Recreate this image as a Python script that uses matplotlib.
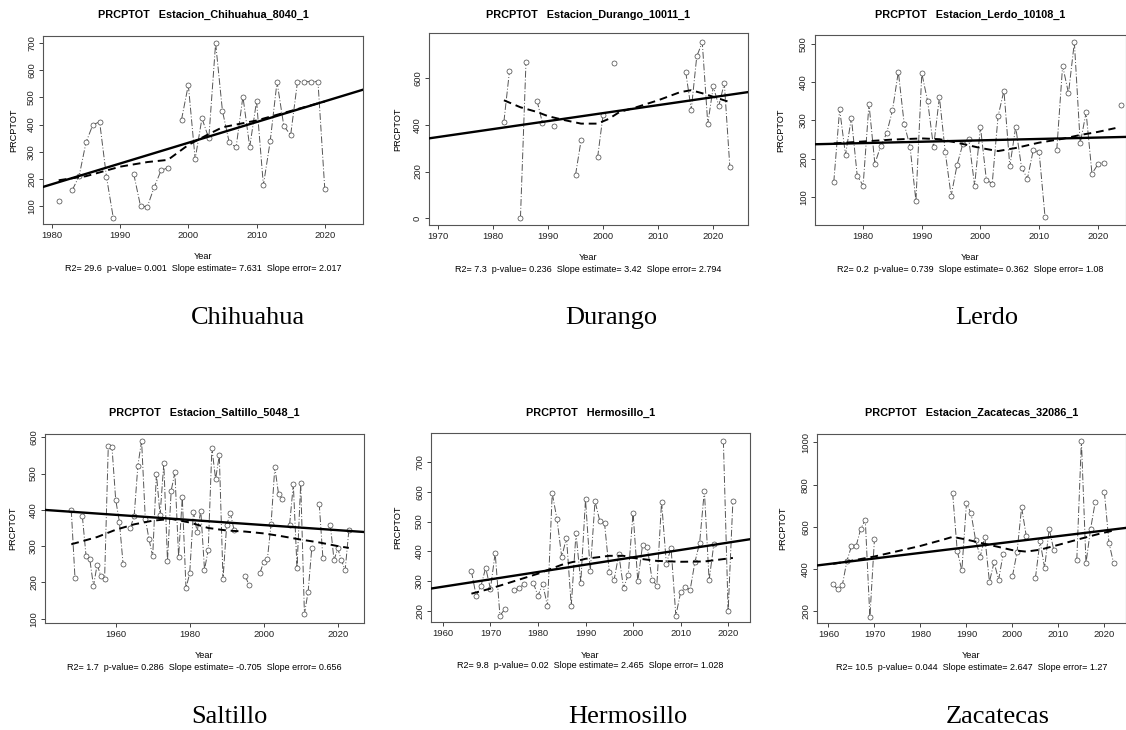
"""
Six PRCPTOT panels (annual total precipitation) with linear trend and smooth curve.
"""
import matplotlib
matplotlib.use("Agg")
import numpy as np
import matplotlib.pyplot as plt

plt.rcParams["font.family"] = ["Liberation Sans", "DejaVu Sans"]

W, H = 1126, 730

# ---- Chihuahua ----
chi_years = [1981, 1983, 1984, 1985, 1986, 1987, 1988, 1989, 1992, 1993, 1994, 1995,
             1996, 1997, 1999, 2000, 2001, 2002, 2003, 2004, 2005, 2006, 2007, 2008,
             2009, 2010, 2011, 2012, 2013, 2014, 2015, 2016, 2017, 2018, 2019, 2020]
chi_vals = [118, 159, 211, 334, 399, 410, 208, 57, 218, 99, 98, 170,
            231, 241, 418, 546, 273, 423, 349, 700, 450, 334, 316, 503,
            318, 486, 177, 339, 557, 394, 362, 558, 558, 558, 558, 162]
chi_sm_years = [1981, 1985, 1990, 1994, 1997, 2000, 2003, 2005, 2010, 2015, 2020]
chi_sm_vals = [195, 210, 245, 262, 270, 325, 365, 390, 415, 450, 485]
chi_slope, chi_mid = 7.631, 333

# ---- Durango ----
dur_years = [1982, 1983, 1985, 1986, 1988, 1989, 1991, 1995, 1996, 1999, 2000, 2002,
             2015, 2016, 2017, 2018, 2019, 2020, 2021, 2022, 2023]
dur_vals = [414, 629, 3, 667, 504, 407, 393, 186, 333, 260, 443, 664,
            626, 464, 693, 753, 404, 564, 481, 579, 221]
dur_sm_years = [1982, 1985, 1988, 1990, 1993, 1996, 1999, 2001, 2003, 2006, 2010, 2014, 2016, 2018, 2020, 2023]
dur_sm_vals = [505, 475, 455, 437, 420, 405, 405, 425, 455, 475, 505, 540, 548, 535, 520, 497]
dur_slope, dur_mid = 3.42, 450

# ---- Lerdo ----
ler_years = list(range(1975, 2012)) + [2013, 2014, 2015, 2016, 2017, 2018, 2019, 2020, 2021, 2024]
ler_vals = [139, 329, 210, 307, 155, 130, 343, 187, 233, 266, 326, 427, 291, 231, 90,
            423, 350, 230, 361, 217, 103, 183, 239, 252, 130, 283, 145, 135, 311, 378,
            180, 283, 177, 148, 223, 217, 48,
            223, 443, 371, 504, 240, 321, 161, 185, 190, 339]
ler_sm_years = [1975, 1980, 1985, 1990, 1993, 1996, 2000, 2003, 2006, 2010, 2014, 2017, 2020, 2023]
ler_sm_vals = [240, 245, 250, 253, 251, 242, 228, 220, 228, 242, 252, 262, 270, 280]
ler_slope, ler_mid = 0.362, 248

# ---- Saltillo ----
sal_years = [1948, 1949, 1951, 1952, 1953, 1954, 1955, 1956, 1957, 1958, 1959, 1960,
             1961, 1962, 1964, 1965, 1966, 1967, 1968, 1969, 1970, 1971, 1972, 1973,
             1974, 1975, 1976, 1977, 1978, 1979, 1980, 1981, 1982, 1983, 1984, 1985,
             1986, 1987, 1988, 1989, 1990, 1991, 1992, 1995, 1996, 1999, 2000, 2001,
             2002, 2003, 2004, 2005, 2007, 2008, 2009, 2010, 2011, 2012, 2013, 2015,
             2016, 2018, 2019, 2020, 2021, 2022, 2023]
sal_vals = [399, 213, 382, 272, 264, 190, 249, 217, 208, 576, 573, 428,
            367, 251, 351, 384, 522, 590, 376, 319, 272, 499, 385, 528,
            260, 453, 503, 271, 434, 184, 225, 394, 340, 397, 235, 289,
            570, 485, 550, 209, 359, 390, 344, 218, 193, 226, 257, 265,
            362, 518, 444, 430, 359, 470, 240, 474, 113, 174, 296, 417,
            266, 359, 261, 294, 261, 233, 343]
sal_sm_years = [1948, 1955, 1960, 1965, 1970, 1975, 1980, 1985, 1990, 1995, 2000, 2005, 2010, 2015, 2020, 2023]
sal_sm_vals = [305, 325, 345, 360, 370, 375, 365, 350, 343, 340, 335, 327, 318, 310, 300, 295]
sal_slope, sal_mid = -0.705, 358

# ---- Hermosillo ----
her_years = [1966, 1967, 1968, 1969, 1970, 1971, 1972, 1973, 1975, 1976, 1977, 1979,
             1980, 1981, 1982, 1983, 1984, 1985, 1986, 1987, 1988, 1989, 1990, 1991,
             1992, 1993, 1994, 1995, 1996, 1997, 1998, 1999, 2000, 2001, 2002, 2003,
             2004, 2005, 2006, 2007, 2008, 2009, 2010, 2011, 2012, 2013, 2014, 2015,
             2016, 2017, 2019, 2020, 2021]
her_vals = [333, 251, 283, 345, 274, 395, 184, 206, 269, 276, 291, 295,
            251, 291, 216, 595, 508, 381, 446, 217, 461, 295, 574, 333,
            568, 502, 495, 332, 303, 390, 277, 322, 530, 300, 421, 414,
            305, 285, 567, 359, 411, 184, 262, 281, 270, 363, 428, 604,
            303, 425, 770, 199, 569]
her_sm_years = [1966, 1970, 1975, 1980, 1985, 1990, 1995, 1998, 2000, 2005, 2010, 2015, 2021]
her_sm_vals = [258, 275, 300, 325, 355, 375, 385, 385, 378, 368, 365, 366, 378]
her_slope, her_mid = 2.465, 380

# ---- Zacatecas ----
zac_years = [1961, 1962, 1963, 1964, 1965, 1966, 1967, 1968, 1969, 1970,
             1987, 1988, 1989, 1990, 1991, 1992, 1993, 1994, 1995, 1996, 1997, 1998,
             2000, 2001, 2002, 2003, 2005, 2006, 2007, 2008, 2009,
             2014, 2015, 2016, 2017, 2018, 2020, 2021, 2022]
zac_vals = [329, 304, 323, 439, 509, 509, 590, 633, 172, 545,
            760, 486, 394, 712, 665, 536, 459, 553, 340, 432, 350, 474,
            366, 480, 693, 558, 358, 533, 407, 591, 490,
            445, 1008, 429, 590, 717, 765, 525, 428]
zac_sm_years = [1961, 1965, 1970, 1975, 1980, 1985, 1987, 1990, 1995, 2000, 2003, 2006, 2010, 2015, 2019, 2022]
zac_sm_vals = [425, 440, 460, 485, 510, 540, 553, 540, 515, 490, 483, 492, 515, 545, 568, 583]
zac_slope, zac_mid = 2.647, 530

panels = [
    dict(title="PRCPTOT   Estacion_Chihuahua_8040_1", city="Chihuahua",
         years=chi_years, vals=chi_vals, sm_years=chi_sm_years, sm_vals=chi_sm_vals,
         slope=chi_slope, mid=chi_mid,
         stats="R2= 29.6  p-value= 0.001  Slope estimate= 7.631  Slope error= 2.017",
         xlim=(1978.7, 2025.6), ylim=(34, 726),
         xticks=[1980, 1990, 2000, 2010, 2020], yticks=[100, 200, 300, 400, 500, 600, 700],
         box=(43, 36, 363, 224), ylab_x=14, city_xy=(248, 318)),
    dict(title="PRCPTOT   Estacion_Durango_10011_1", city="Durango",
         years=dur_years, vals=dur_vals, sm_years=dur_sm_years, sm_vals=dur_sm_vals,
         slope=dur_slope, mid=dur_mid,
         stats="R2= 7.3  p-value= 0.236  Slope estimate= 3.42  Slope error= 2.794",
         xlim=(1968.4, 2026.3), ylim=(-29, 793),
         xticks=[1970, 1980, 1990, 2000, 2010, 2020], yticks=[0, 200, 400, 600],
         box=(429, 33, 748, 225), ylab_x=398, city_xy=(611, 318)),
    dict(title="PRCPTOT   Estacion_Lerdo_10108_1", city="Lerdo",
         years=ler_years, vals=ler_vals, sm_years=ler_sm_years, sm_vals=ler_sm_vals,
         slope=ler_slope, mid=ler_mid,
         stats="R2= 0.2  p-value= 0.739  Slope estimate= 0.362  Slope error= 1.08",
         xlim=(1971.8, 2024.8), ylim=(27, 523),
         xticks=[1980, 1990, 2000, 2010, 2020], yticks=[100, 200, 300, 400, 500],
         box=(815, 35, 1126, 225), ylab_x=781, city_xy=(987, 318)),
    dict(title="PRCPTOT   Estacion_Saltillo_5048_1", city="Saltillo",
         years=sal_years, vals=sal_vals, sm_years=sal_sm_years, sm_vals=sal_sm_vals,
         slope=sal_slope, mid=sal_mid,
         stats="R2= 1.7  p-value= 0.286  Slope estimate= -0.705  Slope error= 0.656",
         xlim=(1940.9, 2027.1), ylim=(88, 609),
         xticks=[1960, 1980, 2000, 2020], yticks=[100, 200, 300, 400, 500, 600],
         box=(45, 434, 364, 623), ylab_x=13, city_xy=(229, 717)),
    dict(title="PRCPTOT   Hermosillo_1", city="Hermosillo",
         years=her_years, vals=her_vals, sm_years=her_sm_years, sm_vals=her_sm_vals,
         slope=her_slope, mid=her_mid,
         stats="R2= 9.8  p-value= 0.02  Slope estimate= 2.465  Slope error= 1.028",
         xlim=(1957.5, 2024.6), ylim=(163, 797),
         xticks=[1960, 1970, 1980, 1990, 2000, 2010, 2020], yticks=[200, 300, 400, 500, 600, 700],
         box=(431, 433, 750, 622), ylab_x=398, city_xy=(628, 717)),
    dict(title="PRCPTOT   Estacion_Zacatecas_32086_1", city="Zacatecas",
         years=zac_years, vals=zac_vals, sm_years=zac_sm_years, sm_vals=zac_sm_vals,
         slope=zac_slope, mid=zac_mid,
         stats="R2= 10.5  p-value= 0.044  Slope estimate= 2.647  Slope error= 1.27",
         xlim=(1957.5, 2024.7), ylim=(145, 1040),
         xticks=[1960, 1970, 1980, 1990, 2000, 2010, 2020], yticks=[200, 400, 600, 800, 1000],
         box=(817, 434, 1126, 623), ylab_x=783, city_xy=(998, 717)),
]

fig = plt.figure(figsize=(W / 100, H / 100), dpi=100)


def with_gaps(years, vals):
    # break the line wherever a year is missing
    xs, ys = [], []
    for i, (yr, v) in enumerate(zip(years, vals)):
        if i > 0 and yr - years[i - 1] > 1:
            xs.append(np.nan)
            ys.append(np.nan)
        xs.append(yr)
        ys.append(v)
    return xs, ys


for p in panels:
    x0, y0, x1, y1 = p["box"]
    ax = fig.add_axes([x0 / W, 1 - y1 / H, (x1 - x0) / W, (y1 - y0) / H])

    xs, ys = with_gaps(p["years"], p["vals"])
    ax.plot(xs, ys, color="#555555", lw=0.7, linestyle=(0, (7, 2, 1, 2)), zorder=2)
    ax.plot(p["years"], p["vals"], "o", ms=3.6, mfc="white", mec="#444444", mew=0.5, zorder=3)
    ax.axline((2000, p["mid"]), slope=p["slope"], color="black", lw=1.7, zorder=4)
    ax.plot(p["sm_years"], p["sm_vals"], color="black", lw=1.4, linestyle=(0, (4, 2.5)), zorder=4)

    ax.set_xlim(*p["xlim"])
    ax.set_ylim(*p["ylim"])
    ax.set_xticks(p["xticks"])
    ax.set_yticks(p["yticks"])
    ax.tick_params(labelsize=6.8, length=3, width=0.6, pad=2, colors="#222222")
    for lab in ax.get_yticklabels():
        lab.set_rotation(90)
        lab.set_va("center")
    for s in ax.spines.values():
        s.set_color("#555555")
        s.set_linewidth(0.8)

    cx = (x0 + x1) / 2
    fig.text(cx / W, 1 - 15 / H if y0 < 100 else 1 - 413 / H, p["title"],
             ha="center", va="center", fontsize=7.8, fontweight="bold")
    fig.text(p["ylab_x"] / W, 1 - ((y0 + y1) / 2) / H, "PRCPTOT",
             rotation=90, ha="center", va="center", fontsize=6.6)
    fig.text(cx / W, 1 - (y1 + 33) / H, "Year", ha="center", va="center", fontsize=6.6)
    fig.text(cx / W, 1 - (y1 + 44) / H, p["stats"], ha="center", va="center", fontsize=6.5)
    fig.text(p["city_xy"][0] / W, 1 - p["city_xy"][1] / H, p["city"],
             ha="center", va="center", fontsize=19, family="Liberation Serif")

fig.savefig("out.png", dpi=100)
